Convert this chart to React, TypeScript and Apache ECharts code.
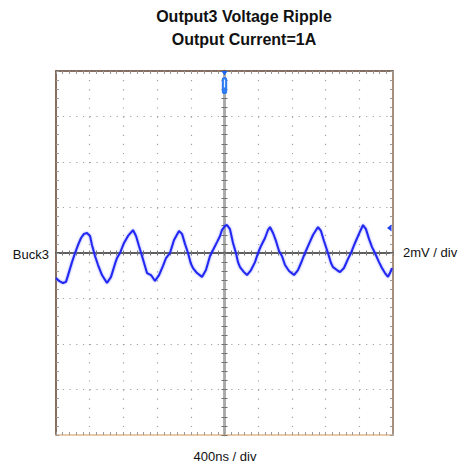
import React, { useEffect, useRef } from "react";
import * as echarts from "echarts";

const titleLines = ["Output3 Voltage Ripple", "Output Current=1A"];
const channelLabel = "Buck3";
const voltsPerDiv = "2mV / div";
const timePerDiv = "400ns / div";

// time axis (ns) and vertical axis (mV)
const xMin = -2000;
const xMax = 2000;
const xStep = 400;
const yMin = -8;
const yMax = 8;
const yStep = 2;

// ripple waveform
const timeNs = [
  -2000, -1964, -1917, -1881, -1846, -1810, -1774, -1739, -1703, -1668, -1632, -1596, -1573, -1537, -1501,
  -1454, -1395, -1347, -1300, -1276, -1240, -1193, -1145, -1086, -1050, -1015, -979, -944, -920, -872,
  -825, -777, -730, -694, -647, -599, -540, -504, -469, -433, -398, -374, -326, -267, -220, -172, -136,
  -89, -53, -30, 6, 30, 65, 101, 136, 160, 184, 231, 267, 315, 362, 398, 433, 481, 516, 540, 576, 611,
  647, 682, 718, 766, 825, 872, 908, 955, 1003, 1050, 1110, 1145, 1181, 1228, 1264, 1288, 1335, 1371,
  1418, 1466, 1501, 1549, 1596, 1644, 1679, 1715, 1751, 1786, 1834, 1869, 1905, 1941, 1964, 1988,
];
const rippleMv = [
  -1.1, -1.23, -1.32, -1.27, -0.84, -0.4, 0, 0.35, 0.66, 0.84, 0.88, 0.75, 0.35, -0.13, -0.53,
  -0.97, -1.32, -1.05, -0.48, -0.22, 0, 0.44, 0.75, 1.01, 0.75, 0.31, -0.13, -0.57, -0.88, -0.97,
  -1.23, -0.97, -0.57, -0.22, 0, 0.57, 0.97, 0.84, 0.4, 0, -0.48, -0.66, -0.88, -1.05, -0.75, -0.13, 0.13,
  0.48, 0.75, 1.01, 1.19, 1.23, 1.05, 0.44, 0, -0.4, -0.62, -0.84, -0.97, -0.75, -0.4, 0, 0.31, 0.66, 1.01, 1.14, 0.88, 0.53,
  0.09, -0.13, -0.53, -0.79, -0.97, -0.75, -0.44, 0, 0.4, 0.79, 1.14, 0.97, 0.53, 0, -0.44, -0.62, -0.75, -0.84,
  -0.66, -0.26, 0, 0.44, 0.84, 1.23, 1.05, 0.62, 0.26, 0, -0.4, -0.66, -0.88, -1.05, -0.88, -0.66,
];

const FONT = '"Liberation Sans", Arial, sans-serif';

function frameX(position: string, color: string, showSplit: boolean) {
  return {
    type: "value",
    position,
    min: xMin,
    max: xMax,
    interval: xStep,
    axisLine: { show: true, onZero: false, lineStyle: { color, width: 1.5 } },
    axisTick: { show: true, inside: true, length: 3, lineStyle: { color: "#9a9a9a" } },
    minorTick: { show: true, splitNumber: 5, length: 3, lineStyle: { color: "#9a9a9a" } },
    axisLabel: { show: false },
    splitLine: showSplit
      ? { show: true, showMinLine: false, showMaxLine: false, lineStyle: { color: "#a0a0a0", width: 1.2, type: [1.2, 7.9] } }
      : { show: false },
  };
}
function frameY(position: string, color: string, showSplit: boolean) {
  return {
    type: "value",
    position,
    min: yMin,
    max: yMax,
    interval: yStep,
    axisLine: { show: true, onZero: false, lineStyle: { color, width: 1.5 } },
    axisTick: { show: true, inside: true, length: 3, lineStyle: { color: "#9a9a9a" } },
    minorTick: { show: true, splitNumber: 5, length: 3, lineStyle: { color: "#9a9a9a" } },
    axisLabel: { show: false },
    splitLine: showSplit
      ? { show: true, showMinLine: false, showMaxLine: false, lineStyle: { color: "#a0a0a0", width: 1.2, type: [1.2, 5.54] } }
      : { show: false },
  };
}
function centerX(position: string) {
  return {
    type: "value",
    position,
    min: xMin,
    max: xMax,
    interval: xStep,
    axisLine: { show: true, onZero: true, onZeroAxisIndex: 0, lineStyle: { color: "#555", width: 1.5 } },
    axisTick: { show: true, inside: true, length: 2.5, lineStyle: { color: "#777" } },
    minorTick: { show: true, splitNumber: 5, length: 2.5, lineStyle: { color: "#777" } },
    axisLabel: { show: false },
    splitLine: { show: false },
  };
}
function centerY(position: string) {
  return {
    type: "value",
    position,
    min: yMin,
    max: yMax,
    interval: yStep,
    axisLine: { show: true, onZero: true, onZeroAxisIndex: 0, lineStyle: { color: "#a8a8a8", width: 2.5 } },
    axisTick: { show: true, inside: true, length: 3, lineStyle: { color: "#707070" } },
    minorTick: { show: true, splitNumber: 5, length: 3, lineStyle: { color: "#707070" } },
    axisLabel: { show: false },
    splitLine: { show: false },
  };
}

export default function App() {
  const ref = useRef<HTMLDivElement>(null);
  useEffect(() => {
    if (!ref.current) return;
    const chart = echarts.init(ref.current, null, { renderer: "svg" });
    const data = timeNs.map((t, i) => [t, rippleMv[i]]);
    chart.setOption({
      animation: false,
      backgroundColor: "#ffffff",
      grid: { left: 56, top: 71, right: 72, bottom: 33, containLabel: false },
      xAxis: [
        frameX("bottom", "#e2b68c", true),
        frameX("top", "#5e3f2c", false),
        centerX("bottom"),
        centerX("top"),
      ],
      yAxis: [
        frameY("left", "#5e3f2c", true),
        frameY("right", "#8a6a50", false),
        centerY("left"),
        centerY("right"),
      ],
      series: [
        {
          type: "line",
          xAxisIndex: 0,
          yAxisIndex: 0,
          data,
          showSymbol: false,
          smooth: false,
          lineStyle: { color: "#2228f2", width: 2, shadowBlur: 2, shadowColor: "rgba(60,70,255,0.6)" },
          z: 5,
        },
      ],
      graphic: [
        {
          type: "text",
          x: 244,
          y: 16,
          style: { text: titleLines[0], font: "bold 16px " + FONT, fill: "#111", align: "center", verticalAlign: "middle", textAlign: "center", textVerticalAlign: "middle" },
        },
        {
          type: "text",
          x: 244,
          y: 39,
          style: { text: titleLines[1], font: "bold 16px " + FONT, fill: "#111", align: "center", verticalAlign: "middle", textAlign: "center", textVerticalAlign: "middle" },
        },
        {
          type: "text",
          x: 49,
          y: 254,
          style: { text: channelLabel, font: "13px " + FONT, fill: "#111", align: "right", verticalAlign: "middle", textAlign: "right", textVerticalAlign: "middle" },
        },
        {
          type: "text",
          x: 403,
          y: 252,
          style: { text: voltsPerDiv, font: "13px " + FONT, fill: "#111", align: "left", verticalAlign: "middle", textAlign: "left", textVerticalAlign: "middle" },
        },
        {
          type: "text",
          x: 225,
          y: 456,
          style: { text: timePerDiv, font: "13px " + FONT, fill: "#111", align: "center", verticalAlign: "middle", textAlign: "center", textVerticalAlign: "middle" },
        },
        {
          type: "polygon",
          shape: { points: [[221.3, 71], [227.7, 71], [224.5, 75.5]] },
          style: { fill: "#1c66f0" },
          z: 10,
        },
        {
          type: "rect",
          shape: { x: 221.8, y: 77, width: 5.4, height: 17, r: 2.6 },
          style: { fill: "#2f7cf4" },
          z: 10,
        },
        {
          type: "rect",
          shape: { x: 223.9, y: 79.5, width: 1.2, height: 8 },
          style: { fill: "#e6f0ff" },
          z: 11,
        },
        {
          type: "polygon",
          shape: { points: [[387, 228], [391.5, 224.5], [391.5, 231.5]] },
          style: { fill: "#2040f0" },
          z: 10,
        },
      ],
    });
    return () => chart.dispose();
  }, []);
  return (
    <div
      ref={ref}
      style={{ position: "fixed", left: 0, top: 0, width: 465, height: 468, background: "#fff" }}
    />
  );
}
